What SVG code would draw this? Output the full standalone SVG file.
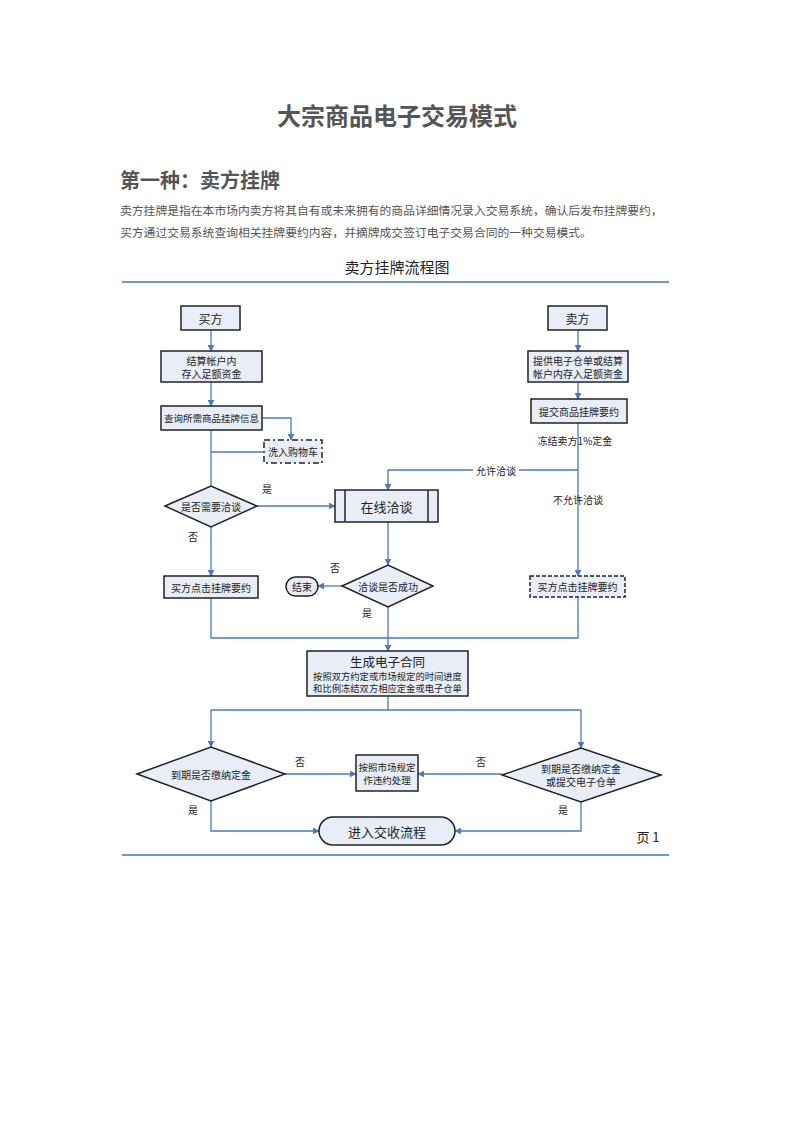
<svg xmlns="http://www.w3.org/2000/svg" width="793" height="1122" viewBox="0 0 793 1122">
<defs>
<marker id="ar" viewBox="0 0 10 10" refX="9" refY="5" markerWidth="7" markerHeight="7" markerUnits="userSpaceOnUse" orient="auto"><path d="M0,0 L10,5 L0,10 z" fill="#4a7bbd"/></marker>
<style>
.t{font-family:"Noto Sans CJK SC","Liberation Sans",sans-serif;fill:#222;text-anchor:middle;dominant-baseline:central}
.b{fill:#e8edf7;stroke:#222;stroke-width:1.5}
.c{fill:none;stroke:#4a7bbd;stroke-width:1.3}
.ca{fill:none;stroke:#4a7bbd;stroke-width:1.3;marker-end:url(#ar)}
.rule{stroke:#7498c5;stroke-width:2}
.doc{font-family:"Noto Sans CJK SC",sans-serif;fill:#555}
</style>
</defs>
<rect width="793" height="1122" fill="#fff"/>
<text class="doc" x="397" y="125" font-size="24" font-weight="bold" text-anchor="middle" fill="#444">大宗商品电子交易模式</text>
<text class="doc" x="120" y="188" font-size="20" font-weight="bold" fill="#444">第一种：卖方挂牌</text>
<text class="doc" x="120" y="215" font-size="11.8" fill="#666">卖方挂牌是指在本市场内卖方将其自有或未来拥有的商品详细情况录入交易系统，确认后发布挂牌要约，</text>
<text class="doc" x="120" y="237" font-size="11.8" fill="#666">买方通过交易系统查询相关挂牌要约内容，并摘牌成交签订电子交易合同的一种交易模式。</text>
<text class="t" x="397" y="266" font-size="15">卖方挂牌流程图</text>
<line class="rule" x1="122" y1="282" x2="669" y2="282"/>
<line class="rule" x1="122" y1="855" x2="669" y2="855"/>
<text class="t" x="648" y="836" font-size="13" fill="#444">页 1</text>

<g id="connectors">
<path class="ca" d="M211,330 V351"/>
<path class="ca" d="M211,382 V406"/>
<path class="ca" d="M262,418 H291 V440"/>
<path class="c" d="M263,452 H211"/>
<path class="c" d="M211,430 V486"/>
<path class="ca" d="M257,506 H335"/>
<path class="ca" d="M211,527 V576"/>
<path class="ca" d="M578,330 V351"/>
<path class="ca" d="M578,382 V399"/>
<path class="ca" d="M578,423 V576"/>
<path class="ca" d="M578,470 H388 V490"/>
<path class="ca" d="M388,522 V565"/>
<path class="ca" d="M342,586 H318"/>
<path class="ca" d="M388,607 V651"/>
<path class="c" d="M211,598 V638 H578 V597"/>
<path class="c" d="M388,696 V710"/>
<path class="c" d="M211,710 H581"/>
<path class="ca" d="M211,710 V747"/>
<path class="ca" d="M581,710 V748"/>
<path class="ca" d="M285,774 H356"/>
<path class="ca" d="M502,774 H418"/>
<path class="ca" d="M211,801 V831 H319"/>
<path class="ca" d="M581,802 V831 H455"/>
<rect x="473" y="463" width="46" height="14" fill="#fff"/>
<text class="t" x="496" y="470" font-size="10">允许洽谈</text>
<text class="t" x="575" y="440" font-size="10">冻结卖方1%定金</text>
<text class="t" x="578" y="499" font-size="10">不允许洽谈</text>
<text class="t" x="267" y="488" font-size="10">是</text>
<text class="t" x="193" y="536" font-size="10">否</text>
<text class="t" x="335" y="567" font-size="10">否</text>
<text class="t" x="367" y="612" font-size="10">是</text>
<text class="t" x="300" y="761" font-size="10">否</text>
<text class="t" x="481" y="761" font-size="10">否</text>
<text class="t" x="193" y="809" font-size="10">是</text>
<text class="t" x="563" y="809" font-size="10">是</text>
</g>

<g id="buyer"><rect class="b" x="181" y="306" width="59" height="24"/><text class="t" x="210.5" y="318" font-size="12">买方</text></g>
<g id="seller"><rect class="b" x="548" y="306" width="59" height="24"/><text class="t" x="577.5" y="318" font-size="12">卖方</text></g>
<g id="buyerFunds"><rect class="b" x="161" y="351" width="101" height="31"/><text class="t" x="211.5" y="360" font-size="10">结算帐户内</text><text class="t" x="211.5" y="373" font-size="10">存入足额资金</text></g>
<g id="sellerFunds"><rect class="b" x="528" y="351" width="100" height="31"/><text class="t" x="578" y="360" font-size="10">提供电子仓单或结算</text><text class="t" x="578" y="373" font-size="10">帐户内存入足额资金</text></g>
<g id="query"><rect class="b" x="161" y="406" width="101" height="24"/><text class="t" x="211.5" y="418" font-size="9.5">查询所需商品挂牌信息</text></g>
<g id="submit"><rect class="b" x="531" y="399" width="96" height="24"/><text class="t" x="579" y="411" font-size="10">提交商品挂牌要约</text></g>
<g id="cart"><rect class="b" x="264" y="440" width="58" height="23" stroke-dasharray="6,3,2,3"/><text class="t" x="293" y="451.5" font-size="10">洗入购物车</text></g>
<g id="needNegotiate"><polygon class="b" points="165,506 211,486 257,506 211,527"/><text class="t" x="211" y="506" font-size="10">是否需要洽谈</text></g>
<g id="online"><rect class="b" x="335" y="490" width="103" height="32" stroke-width="3"/><line x1="345" y1="490" x2="345" y2="522" stroke="#222" stroke-width="1.5"/><line x1="428" y1="490" x2="428" y2="522" stroke="#222" stroke-width="1.5"/><text class="t" x="386.5" y="506" font-size="13">在线洽谈</text></g>
<g id="buyerClickL"><rect class="b" x="164" y="576" width="94" height="22"/><text class="t" x="211" y="587" font-size="10">买方点击挂牌要约</text></g>
<g id="success"><polygon class="b" points="342,586 388,565 433,586 388,607"/><text class="t" x="388" y="586" font-size="10">洽谈是否成功</text></g>
<g id="end"><rect class="b" x="286" y="577" width="32" height="19" rx="9.5" stroke-width="1.8"/><text class="t" x="302" y="586.5" font-size="10">结束</text></g>
<g id="buyerClickR"><rect class="b" x="530" y="576" width="95" height="21" stroke-dasharray="4,2"/><text class="t" x="577.5" y="586.5" font-size="10">买方点击挂牌要约</text></g>
<g id="contract"><rect class="b" x="307" y="651" width="161" height="45"/><text class="t" x="387.5" y="661" font-size="12.5">生成电子合同</text><text class="t" x="387.5" y="675.5" font-size="9.3">按照双方约定或市场规定的时间进度</text><text class="t" x="387.5" y="688" font-size="9.3">和比例冻结双方相应定金或电子仓单</text></g>
<g id="depositDue"><polygon class="b" points="137,774 211,747 285,774 211,801"/><text class="t" x="211" y="774" font-size="10">到期是否缴纳定金</text></g>
<g id="breach"><rect class="b" x="356" y="755" width="62" height="36"/><text class="t" x="387" y="767" font-size="9.5">按照市场规定</text><text class="t" x="387" y="780" font-size="9.5">作违约处理</text></g>
<g id="sellerDue"><polygon class="b" points="502,775 581,748 661,775 581,802"/><text class="t" x="581" y="768" font-size="10">到期是否缴纳定金</text><text class="t" x="581" y="781" font-size="10">或提交电子仓单</text></g>
<g id="delivery"><rect class="b" x="319" y="817" width="136" height="28" rx="14" stroke-width="2.5"/><text class="t" x="387" y="831" font-size="13">进入交收流程</text></g>
</svg>
